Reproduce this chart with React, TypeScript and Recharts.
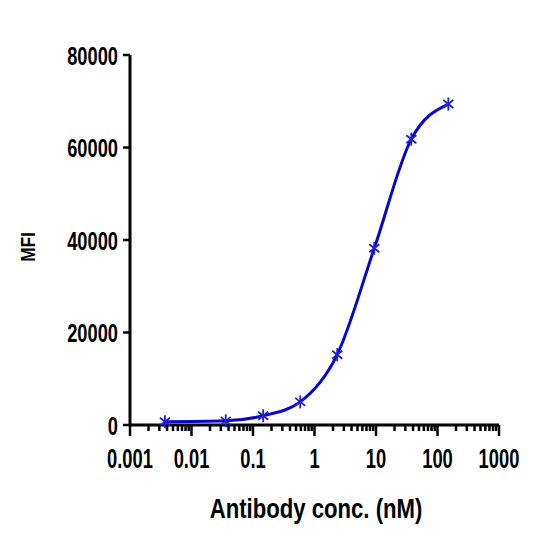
import { LineChart, Line, XAxis, YAxis } from "recharts";

// antibody concentration (nM) and measured MFI
const CONC = [0.0037, 0.036, 0.146, 0.586, 2.34, 9.38, 37.5, 150];
const MFI = [700, 900, 2000, 5000, 15200, 38200, 61800, 69400];

const X_DECADES = [0.001, 0.01, 0.1, 1, 10, 100, 1000];
const X_LABELS = ["0.001", "0.01", "0.1", "1", "10", "100", "1000"];
const Y_TICKS = [0, 20000, 40000, 60000, 80000];
const MINOR_STEPS = [2, 3, 4, 5, 6, 7, 8, 9];

const X_TICKS = [
  ...X_DECADES,
  ...X_DECADES.slice(0, -1).flatMap((d) =>
    MINOR_STEPS.map((m) => Number((d * m).toPrecision(3)))
  ),
].sort((a, b) => a - b);

const BLUE = "#0808c8";
const FONT = "'Liberation Sans', Arial, sans-serif";

const data = CONC.map((c, i) => ({ conc: c, mfi: MFI[i] }));

function XTick(props: any) {
  const { x, y, payload } = props;
  const idx = X_DECADES.indexOf(payload.value);
  const major = idx >= 0;
  return (
    <g>
      <line
        x1={x}
        x2={x}
        y1={y}
        y2={y + (major ? 11 : 6)}
        stroke="#000"
        strokeWidth={2.5}
      />
      {major && (
        <g transform={`translate(${x},${y + 43})`}>
          <text
            x={0}
            y={0}
            textAnchor="middle"
            transform="scale(0.655,1)"
            fontFamily={FONT}
            fontWeight="bold"
            fontSize={28}
            fill="#000"
          >
            {X_LABELS[idx]}
          </text>
        </g>
      )}
    </g>
  );
}

function YTick(props: any) {
  const { x, y, payload } = props;
  return (
    <g transform={`translate(${x},${y})`}>
      <text
        x={0}
        y={0}
        dy="0.36em"
        textAnchor="end"
        transform="scale(0.69,1)"
        fontFamily={FONT}
        fontWeight="bold"
        fontSize={26.5}
        fill="#000"
      >
        {payload.value}
      </text>
    </g>
  );
}

function Asterisk(props: any) {
  const { cx, cy } = props;
  if (cx == null || cy == null) return null;
  return (
    <g stroke="#2020d8" strokeWidth={1.8}>
      <line x1={cx} x2={cx} y1={cy - 6.5} y2={cy + 6.5} />
      <line x1={cx - 5} x2={cx + 5} y1={cy - 4} y2={cy + 4} />
      <line x1={cx - 5} x2={cx + 5} y1={cy + 4} y2={cy - 4} />
    </g>
  );
}

export default function App() {
  return (
    <div style={{ position: "absolute", left: 0, top: 0, background: "#fff" }}>
      <LineChart
        width={559}
        height={557}
        data={data}
        margin={{ top: 55, right: 60, bottom: 72, left: 70 }}
      >
        <XAxis
          dataKey="conc"
          type="number"
          scale="log"
          domain={[0.001, 1000]}
          ticks={X_TICKS}
          interval={0}
          allowDataOverflow
          height={60}
          tickSize={0}
          tickMargin={0}
          tickLine={false}
          tick={<XTick />}
          axisLine={{ stroke: "#000", strokeWidth: 3 }}
        />
        <YAxis
          type="number"
          domain={[0, 80000]}
          ticks={Y_TICKS}
          interval={0}
          width={60}
          tickSize={7}
          tickMargin={5}
          tickLine={{ stroke: "#000", strokeWidth: 2.5 }}
          tick={<YTick />}
          axisLine={{ stroke: "#000", strokeWidth: 3 }}
        />
        <Line
          dataKey="mfi"
          type="monotone"
          stroke={BLUE}
          strokeWidth={3}
          dot={<Asterisk />}
          activeDot={false}
          isAnimationActive={false}
        />
        <text
          x={0}
          y={0}
          transform="translate(316,518) scale(0.82,1.02)"
          textAnchor="middle"
          fontFamily={FONT}
          fontWeight="bold"
          fontSize={27}
          fill="#000"
        >
          Antibody conc. (nM)
        </text>
        <text
          x={0}
          y={0}
          transform="translate(35,247) rotate(-90) scale(0.82,1)"
          textAnchor="middle"
          fontFamily={FONT}
          fontWeight="bold"
          fontSize={21}
          fill="#000"
        >
          MFI
        </text>
      </LineChart>
    </div>
  );
}
